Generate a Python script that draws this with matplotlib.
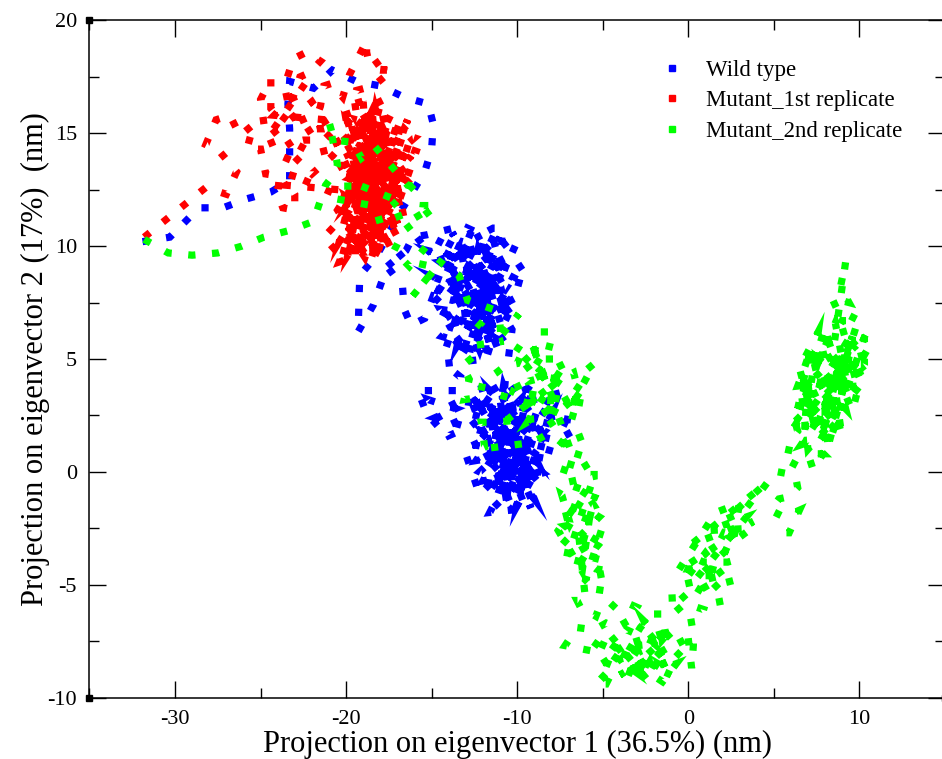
import numpy as np
import matplotlib.pyplot as plt
from matplotlib.lines import Line2D

plt.rcParams['font.family'] = ['Liberation Serif', 'DejaVu Serif']
plt.rcParams['axes.unicode_minus'] = False

# PC1 / PC2 trajectories (nm), frame order
wild_type = [
    (-31.9, 10.2), (-30.3, 10.4), (-28.6, 11.7), (-27.2, 11.7), (-25.8, 12.1),
    (-24.4, 12.4), (-23.3, 12.9), (-23.3, 14.1), (-23.3, 15.2), (-23.4, 16.3),
    (-23.3, 17.3), (-21.9, 17.0), (-20.8, 17.8), (-19.4, 17.3), (-18.0, 17.1),
    (-16.6, 16.6), (-15.2, 16.3), (-14.9, 15.4), (-15.0, 14.3), (-15.4, 13.3),
    (-16.2, 12.3), (-17.0, 11.3), (-17.6, 10.4), (-18.2, 9.6), (-19.2, 8.7),
    (-19.3, 6.2), (-18.4, 7.4), (-17.6, 9.1), (-16.5, 9.8), (-16.1, 10.4),
    (-15.3, 10.5), (-13.7, 10.8), (-12.4, 10.4), (-11.4, 10.8), (-10.9, 10.8),
    (-10.9, 9.9), (-12.8, 9.5), (-14.5, 9.3), (-13.2, 8.6), (-11.5, 9.4),
    (-10.4, 8.8), (-9.6, 9.2), (-10.0, 8.1), (-11.8, 8.0), (-13.8, 7.6),
    (-14.9, 7.8), (-15.4, 6.8), (-16.2, 6.5), (-16.6, 7.2), (-16.7, 8.2),
    (-17.6, 9.1), (-16.5, 9.8), (-15.3, 10.5), (-14.0, 10.0), (-12.0, 9.0),
    (-10.6, 7.5), (-10.2, 7.8), (-11.0, 6.6), (-12.6, 7.0), (-14.5, 7.2),
    (-13.9, 6.4), (-12.2, 6.0), (-11.6, 6.4), (-10.5, 7.0), (-11.4, 5.6),
    (-13.2, 5.4), (-13.7, 5.9), (-12.6, 8.4), (-11.2, 9.8), (-13.2, 10.2),
    (-14.2, 8.8), (-12.1, 7.2), (-10.6, 5.6), (-10.5, 5.1), (-10.3, 6.3),
    (-13.0, 9.8), (-11.2, 6.0), (-14.0, 8.2), (-10.4, 9.6), (-12.4, 5.8),
    (-13.6, 9.0), (-11.0, 8.4), (-14.6, 6.6), (-12.0, 10.2), (-10.8, 7.2),
    (-13.4, 7.0), (-11.6, 9.0), (-12.8, 5.2), (-10.2, 8.6), (-14.2, 10.2),
    (-11.9, 7.6), (-13.0, 6.2), (-11.0, 10.4), (-12.7, 8.0), (-14.8, 8.6),
    (-10.9, 6.4), (-12.3, 9.8), (-13.5, 5.6), (-11.3, 8.2), (-12.6, 6.6),
    (-10.6, 9.2), (-13.8, 8.4), (-12.2, 7.4), (-11.5, 5.4), (-13.1, 9.4),
    (-15.2, 9.8), (-10.2, 6.8), (-13.8, 10.6), (-11.0, 5.2), (-14.4, 6.0),
    (-10.0, 9.8), (-12.9, 10.8), (-15.0, 7.4), (-11.4, 10.2), (-13.4, 5.0),
    (-10.6, 8.2), (-14.7, 9.9), (-12.2, 5.4), (-11.2, 7.8), (-13.9, 9.6),
    (-10.4, 10.3), (-12.6, 9.0), (-14.2, 5.4), (-11.8, 6.8), (-13.0, 8.4),
    (-10.1, 7.2), (-12.4, 10.6), (-14.6, 8.0), (-11.6, 7.0), (-13.6, 6.6),
    (-10.8, 9.6), (-12.8, 7.6), (-14.0, 9.2), (-11.3, 5.8), (-12.0, 8.6),
    (-11.8, 5.0), (-14.3, 4.8), (-13.3, 4.2), (-13.4, 3.6), (-15.8, 3.6),
    (-15.3, 2.6), (-14.5, 1.9), (-13.3, 2.3), (-13.9, 3.2), (-12.0, 3.0),
    (-10.5, 2.5), (-9.0, 3.2), (-7.5, 3.5), (-8.8, 2.0), (-11.5, 1.5),
    (-12.4, 0.5), (-10.0, 0.8), (-8.5, -0.05), (-10.8, -0.6), (-11.6, -1.8),
    (-10.4, -1.7), (-9.8, -1.2), (-8.9, -0.9), (-9.5, 0.3), (-11.8, 1.0),
    (-12.2, 2.6), (-10.2, 3.5), (-8.4, 2.6), (-6.5, 1.9), (-7.7, 1.4),
    (-9.4, 1.7), (-11.0, 2.8), (-12.5, 3.6), (-11.2, 3.9), (-9.6, 3.8),
    (-8.0, 3.0), (-8.7, 0.8), (-10.5, -0.2), (-12.0, -0.4), (-11.2, 0.6),
    (-9.2, -0.4), (-10.0, -1.5), (-9.4, 1.0), (-10.8, 1.8), (-13.1, 1.0),
    (-12.2, -1.0), (-10.6, 0.2), (-9.0, 2.4), (-10.6, 4.0), (-12.4, 3.2),
    (-9.2, -1.6), (-11.0, 3.2), (-10.2, -1.0), (-9.0, 1.6), (-11.8, 0.2),
    (-9.6, 2.8), (-10.6, -1.4), (-11.4, 2.4), (-8.8, 0.4), (-10.4, 3.0),
    (-11.2, -0.8), (-9.4, 3.4), (-10.0, 0.0), (-12.0, 1.8), (-8.6, 1.2),
    (-11.0, -1.2), (-9.8, 2.0), (-10.8, 0.8), (-9.0, -0.4), (-11.6, 3.0),
    (-10.2, 1.4), (-12.2, 0.0), (-9.4, -1.0), (-10.6, 2.6), (-8.2, 2.0),
    (-11.0, 1.0), (-9.6, -0.6), (-10.4, 3.6), (-11.8, 2.2), (-9.2, 0.8),
    (-12.6, 1.2), (-8.4, 0.6), (-11.4, -1.6), (-9.0, 3.8), (-12.4, 2.8),
    (-8.6, -0.6), (-10.8, 3.8), (-11.8, -1.0), (-8.0, 2.6), (-10.2, -1.8),
    (-12.8, 3.4), (-9.8, 1.2), (-11.6, 0.0), (-8.8, 2.8), (-10.4, -0.8),
    (-12.0, 3.4), (-9.2, 0.0), (-11.2, 1.6), (-9.6, -1.4), (-10.8, 2.2),
    (-13.0, 2.6), (-9.0, -1.2), (-11.6, 3.6), (-10.0, 2.4), (-8.4, 1.8),
    (-11.0, -0.2), (-9.8, 3.2), (-12.2, 1.4), (-10.6, -1.0), (-9.4, 2.2),
    (-7.0, 2.6), (-7.4, 0.8),
    (-14.8, 2.4), (-13.6, 2.8), (-15.2, 3.2), (-14.0, 1.6), (-12.8, 2.0),
]

mutant_1st = [
    (-31.8, 10.4), (-28.2, 12.6), (-27.0, 12.3), (-26.4, 13.3), (-27.4, 14.2),
    (-28.2, 14.5), (-27.6, 15.6), (-26.8, 15.8), (-26.2, 14.9), (-25.4, 15.4),
    (-25.8, 14.3), (-25.0, 14.3), (-24.7, 13.2), (-23.9, 13.1), (-24.0, 12.3),
    (-23.7, 11.7), (-23.0, 11.6), (-23.0, 12.3), (-23.3, 12.7), (-22.9, 13.7),
    (-24.1, 14.1), (-24.8, 15.4), (-25.0, 16.5), (-24.4, 17.4), (-24.4, 16.1),
    (-23.8, 15.5), (-23.3, 16.0), (-23.6, 17.1), (-23.3, 17.8), (-23.1, 18.3),
    (-22.3, 18.6), (-21.5, 18.2), (-22.1, 17.7), (-22.7, 17.5), (-23.1, 16.6),
    (-22.3, 15.2), (-21.5, 15.2), (-21.7, 15.8), (-21.5, 16.2), (-21.3, 17.1),
    (-20.9, 17.2), (-20.2, 16.6), (-19.8, 17.6), (-18.8, 19.1), (-18.8, 18.6),
    (-18.6, 17.9), (-17.7, 18.4), (-17.8, 17.8), (-17.3, 17.8), (-18.4, 17.1),
    (-19.4, 16.9), (-19.6, 16.3), (-18.2, 16.6), (-17.8, 16.0), (-20.5, 15.3),
    (-21.3, 14.7), (-22.5, 14.7), (-23.1, 14.6), (-21.9, 14.1), (-20.3, 14.4),
    (-22.0, 16.4), (-24.6, 14.8), (-22.4, 17.2), (-24.2, 15.8), (-21.2, 15.6),
    (-23.6, 14.4), (-22.0, 13.2), (-20.8, 14.0),
    (-19.0, 15.5), (-18.0, 14.0), (-19.8, 13.0), (-17.5, 12.5), (-19.5, 11.5),
    (-18.0, 10.5), (-20.0, 10.0), (-18.5, 12.0), (-17.2, 13.5), (-19.2, 14.5),
    (-18.2, 15.8), (-17.6, 14.8), (-19.6, 12.2), (-18.8, 10.2), (-17.6, 11.3),
    (-19.3, 13.6), (-18.4, 13.0), (-20.2, 11.0), (-18.9, 9.5), (-17.8, 12.0),
    (-16.6, 13.9), (-16.2, 14.9), (-16.6, 15.2), (-17.5, 13.3), (-18.6, 14.4),
    (-19.5, 15.0), (-18.3, 12.6), (-19.7, 10.6), (-20.4, 9.3), (-19.6, 9.5),
    (-18.4, 11.0), (-17.0, 12.8), (-16.2, 13.0), (-16.6, 12.7), (-18.0, 13.6),
    (-19.0, 12.8), (-18.6, 11.6), (-20.0, 12.2), (-19.2, 10.8), (-17.4, 10.9),
    (-15.9, 14.2), (-17.0, 14.5), (-18.8, 15.2), (-19.4, 13.8), (-18.2, 11.4),
    (-19.0, 9.8), (-20.6, 9.8), (-21.3, 10.4), (-19.8, 11.6), (-18.6, 13.4),
    (-17.3, 14.2), (-18.0, 15.2), (-19.2, 16.0), (-18.5, 14.6), (-19.9, 14.0),
    (-18.9, 12.4), (-23.5, 12.7), (-22.7, 13.0), (-20.9, 12.4), (-19.4, 12.0),
    (-17.6, 15.4), (-19.8, 10.4), (-17.9, 9.6), (-18.6, 15.8), (-20.1, 13.4),
    (-17.1, 11.8), (-19.0, 16.4), (-18.4, 9.4), (-16.5, 14.4), (-20.0, 11.8),
    (-17.4, 15.8), (-19.2, 10.0), (-18.0, 13.0), (-20.3, 15.0), (-17.0, 10.4),
    (-18.7, 14.0), (-19.9, 9.6), (-16.8, 13.2), (-19.5, 16.4), (-18.3, 10.2),
    (-17.2, 15.0), (-20.2, 12.6), (-18.0, 11.8), (-16.4, 15.6), (-19.3, 11.2),
    (-18.5, 16.2), (-17.8, 9.9), (-19.7, 14.2), (-16.9, 12.2), (-18.9, 10.9),
    (-20.0, 15.6), (-17.4, 13.8), (-19.6, 10.2), (-18.2, 14.6), (-17.0, 11.0),
    (-19.1, 15.1), (-20.4, 11.4), (-16.3, 13.6), (-18.7, 9.7), (-17.7, 13.0),
    (-19.4, 12.6), (-16.0, 14.8), (-18.4, 15.4), (-20.1, 10.8), (-17.3, 12.3),
    (-19.0, 13.3), (-18.1, 9.8), (-16.7, 14.0), (-19.8, 15.3), (-18.6, 11.2),
    (-20.5, 13.8), (-16.8, 11.6), (-18.3, 16.1), (-19.9, 9.4), (-17.5, 14.4),
    (-20.3, 12.0), (-16.5, 12.4), (-19.1, 14.0), (-17.9, 10.2), (-20.6, 14.6),
    (-16.9, 15.4), (-18.8, 11.8), (-17.3, 9.8), (-19.6, 13.2), (-16.4, 14.2),
    (-18.2, 12.2), (-20.0, 16.0), (-17.8, 11.0), (-19.3, 9.9), (-16.7, 12.9),
    (-18.6, 15.6), (-20.4, 10.2), (-17.6, 13.6), (-18.9, 14.8), (-17.1, 10.6),
    (-19.7, 11.0), (-16.2, 14.0), (-18.4, 10.6), (-19.5, 14.6), (-17.0, 13.0),
    (-20.2, 9.6), (-18.0, 16.3), (-16.6, 11.2), (-19.2, 12.2), (-17.7, 15.0),
    (-20.5, 11.6), (-18.6, 9.3), (-17.2, 12.6), (-19.4, 15.6), (-16.3, 15.0),
]

mutant_2nd = [
    (-31.8, 10.3), (-30.4, 9.7), (-29.0, 9.6), (-27.5, 9.7), (-26.1, 10.0),
    (-24.8, 10.4), (-23.3, 10.7), (-21.9, 11.1), (-21.6, 11.8), (-21.2, 12.7),
    (-20.7, 13.2), (-20.5, 13.6), (-20.7, 14.4), (-21.0, 15.5), (-20.7, 14.7),
    (-19.6, 14.6), (-19.1, 13.9), (-18.3, 14.4), (-17.3, 13.5), (-16.4, 12.7),
    (-15.9, 12.6), (-15.8, 12.9), (-17.3, 11.8), (-16.9, 12.0), (-19.9, 12.9),
    (-19.9, 12.5), (-20.6, 12.1), (-18.5, 11.8), (-18.2, 11.5), (-18.0, 11.0),
    (-16.0, 11.6), (-15.6, 11.1), (-15.5, 11.8), (-14.7, 11.8), (-16.6, 10.7),
    (-17.2, 9.8), (-16.3, 9.1), (-15.3, 10.0), (-15.6, 8.9), (-14.9, 8.9),
    (-16.1, 7.8), (-14.5, 9.3), (-13.4, 8.7), (-12.9, 7.6), (-11.4, 7.2),
    (-12.2, 6.5), (-11.9, 6.3), (-10.5, 6.4), (-9.9, 7.0), (-11.3, 5.7),
    (-10.8, 5.8), (-12.5, 5.6), (-12.4, 5.2), (-13.2, 4.7), (-12.8, 4.1),
    (-13.1, 3.2), (-12.2, 3.3), (-12.0, 4.0), (-11.2, 4.4), (-10.7, 4.7),
    (-10.0, 4.8), (-9.7, 5.3), (-9.0, 5.3), (-8.7, 6.2), (-7.9, 6.2),
    (-8.2, 5.3), (-7.7, 5.0), (-8.5, 5.0), (-9.1, 4.8), (-9.8, 4.4),
    (-9.4, 4.0), (-8.4, 4.2), (-7.5, 4.1), (-6.7, 4.4), (-6.6, 4.1),
    (-5.5, 4.8), (-6.7, 3.1), (-8.9, 3.2), (-9.6, 2.9), (-10.6, 2.3),
    (-8.0, 3.8), (-10.2, 5.6), (-6.2, 3.6), (-9.4, 2.2), (-7.2, 4.8),
    (-11.0, 3.4), (-6.4, 2.4), (-8.8, 4.6), (-5.8, 3.0), (-10.4, 3.6),
    (-7.6, 2.6), (-9.2, 5.8), (-6.8, 0.8), (-8.2, 2.4),
    (-11.3, 2.2), (-12.1, 2.2), (-11.9, 1.1), (-12.2, 1.0), (-9.1, 1.3),
    (-8.4, 1.6), (-7.9, 1.6), (-7.1, 1.1), (-6.8, 1.4), (-6.1, 1.6),
    (-6.5, 0.6), (-6.3, 0.2), (-7.2, 0.4), (-7.7, 0.2), (-6.7, -0.05),
    (-5.5, 0.5), (-5.5, -0.2), (-7.3, -0.5), (-6.1, -0.8), (-5.5, -1.5),
    (-6.3, -1.7), (-7.3, -1.4), (-7.1, -2.0), (-6.6, -1.9), (-6.9, -2.3),
    (-7.4, -1.0), (-5.2, -2.0), (-6.8, -3.2), (-5.6, -0.4), (-7.6, -2.6),
    (-6.2, -4.4), (-5.8, -2.2),
    (-7.2, -2.4), (-6.7, -2.7), (-7.1, -3.0), (-7.7, -3.5), (-7.0, -3.6),
    (-6.7, -3.7), (-6.0, -3.6), (-6.3, -3.2), (-5.7, -3.1), (-5.2, -3.3),
    (-4.9, -3.5), (-5.1, -3.9), (-5.6, -3.8), (-5.9, -4.0), (-5.4, -4.3),
    (-4.5, -4.4), (-4.8, -4.5), (-5.5, -4.6), (-5.1, -4.9), (-5.2, -5.4),
    (-6.0, -4.8), (-5.0, -2.4), (-6.6, -4.4), (-5.4, -1.0), (-6.4, -2.8),
    (-6.0, -5.7), (-6.5, -5.7), (-6.3, -6.0), (-5.4, -6.4), (-5.2, -6.0),
    (-4.6, -6.1), (-4.1, -5.7), (-3.6, -5.8), (-3.0, -6.0), (-3.5, -6.6),
    (-4.2, -6.9), (-4.8, -6.7), (-5.5, -7.0), (-6.5, -6.9), (-7.2, -7.7),
    (-5.2, -8.0), (-4.7, -8.6), (-4.4, -8.8), (-4.8, -9.4), (-5.4, -9.4),
    (-4.0, -8.3), (-3.4, -8.2), (-2.9, -8.0), (-3.2, -7.4), (-2.8, -6.9),
    (-2.1, -6.3), (-1.5, -6.3), (-1.3, -7.3), (-1.6, -7.0), (-2.4, -7.5),
    (-2.2, -7.7), (-1.8, -8.0), (-1.4, -8.3), (-1.05, -8.6), (-0.7, -8.5),
    (-1.5, -9.3), (-2.3, -8.9), (-3.0, -8.6), (-3.6, -8.8), (-2.0, -8.4),
    (-3.8, -7.6), (-1.2, -8.9), (-2.6, -6.6), (-0.4, -8.2), (-3.3, -9.0),
    (-1.7, -7.6), (-4.3, -7.8), (-0.8, -7.0), (-2.7, -8.3), (-1.0, -9.0),
    (-5.8, -7.4), (-3.2, -8.8), (-4.6, -7.2), (-2.4, -9.2), (-5.0, -8.4),
    (-3.6, -7.0), (-1.2, -7.8), (-4.0, -9.0),
    (-0.1, -7.4), (0.3, -7.3), (0.3, -7.7), (0.2, -8.7), (-0.1, -6.7),
    (0.7, -6.6), (0.9, -6.1), (0.5, -6.0), (-0.3, -5.9), (-0.6, -6.1),
    (-0.9, -6.3), (-0.96, -5.2), (-0.7, -5.2), (-0.1, -5.7), (0.1, -5.4),
    (0.5, -5.4), (0.9, -4.9), (1.3, -4.8), (1.8, -5.2), (2.2, -5.7),
    (1.5, -5.8), (0.6, -4.6), (2.0, -4.6), (-0.4, -5.0), (1.0, -3.6),
    (2.5, -5.1), (2.3, -4.5), (1.3, -4.3), (0.0, -4.3), (0.3, -3.8),
    (0.9, -4.0), (1.7, -4.0), (2.3, -4.0), (2.8, -3.9), (2.5, -3.6),
    (1.6, -3.3), (1.9, -3.0), (2.1, -2.7), (3.0, -2.9), (3.7, -2.5),
    (1.2, -2.6), (3.4, -2.0), (0.4, -4.8), (2.6, -3.2), (3.0, -1.4),
    (1.6, -1.8), (-0.6, -4.4), (3.8, -2.2), (0.2, -3.2), (4.4, -0.6),
    (2.2, -2.1), (2.8, -1.9), (3.2, -1.8), (3.7, -1.3), (4.0, -1.1),
    (4.8, -0.3), (5.4, -0.2), (5.5, 0.2), (5.8, 0.7), (6.0, 1.4),
    (6.4, 1.8), (6.1, 2.6), (6.5, 2.3), (7.1, 2.0), (7.8, 2.3),
    (8.3, 2.1), (9.2, 2.2), (9.1, 2.6), (8.3, 2.6), (7.3, 2.7),
    (6.7, 2.9), (6.9, 3.5), (7.5, 3.3), (7.7, 3.9), (8.7, 3.6),
    (9.9, 3.6), (9.7, 3.0), (9.6, 4.1), (9.1, 4.2), (8.3, 4.7),
    (8.0, 5.1), (7.1, 5.3), (6.7, 4.4), (6.4, 3.8), (7.7, 3.9),
    (9.1, 5.4), (9.5, 5.8), (10.1, 5.3), (10.8, 5.0), (10.3, 4.7),
    (10.3, 5.9), (9.5, 6.3), (8.6, 6.1), (9.0, 6.7), (10.0, 6.7),
    (8.7, 7.2), (8.4, 7.7), (9.4, 7.5), (8.9, 8.2), (9.2, 9.3),
    (8.5, 5.5), (9.0, 4.5), (8.0, 3.0),
    (8.0, 4.2), (9.8, 5.6), (7.4, 3.0), (9.4, 3.2), (8.2, 5.8),
    (10.4, 5.2), (7.2, 4.6), (8.8, 2.4), (9.6, 6.0), (7.6, 2.2),
    (9.0, 5.0), (8.4, 3.4), (10.0, 4.4), (7.0, 3.8), (8.6, 6.6),
    (9.3, 3.8), (7.8, 5.6), (8.9, 1.8),
    (6.6, 1.2), (9.8, 4.8), (7.0, 2.4), (10.2, 3.4), (7.6, 5.0),
    (9.0, 1.6), (6.8, 3.2), (9.6, 5.2), (8.2, 1.2), (10.4, 6.2),
    (7.4, 4.2), (9.2, 2.8), (8.0, 6.4), (6.2, 2.0), (9.8, 6.4),
    (7.8, 1.6), (8.6, 4.0), (10.6, 4.6), (7.2, 3.4), (9.4, 4.6),
    (8.4, 2.2), (7.0, 1.0),
    (6.6, 3.6), (7.2, 5.6), (6.4, 2.8), (7.0, 4.2), (6.8, 1.8),
    (7.6, 6.2), (6.5, 4.6), (7.4, 2.0),
    (8.8, 2.9), (7.5, 1.1),
    (7.9, 0.8), (7.0, 0.8), (7.3, 0.1), (7.8, 0.7), (8.4, 1.5),
    (6.9, 1.4), (6.0, 0.1), (6.3, -0.3), (6.4, -0.7), (5.9, -1.1),
    (5.3, -1.2), (4.8, -1.7), (5.6, -2.0), (6.5, -1.7), (5.9, -2.7),
    (5.2, -2.7),
]

labels = ['Wild type', 'Mutant_1st replicate', 'Mutant_2nd replicate']
colors = ['#0000ff', '#ff0000', '#00ff00']

fig = plt.figure(figsize=(9.42, 7.59), dpi=100)
ax = fig.add_axes([0.095, 0.081, 0.908, 0.892])

# thick dashed trajectory lines, each dash looks like a small square
for traj, c in zip([wild_type, mutant_1st, mutant_2nd], colors):
    xy = np.array(traj)
    ax.plot(xy[:, 0], xy[:, 1], color=c, lw=5.2, linestyle=(0, (1, 2.3)),
            dash_capstyle='butt', dash_joinstyle='miter')

ax.set_xlim(-35, 15)
ax.set_ylim(-10, 20)
ax.set_xticks([-30, -20, -10, 0, 10])
ax.set_xticks(np.arange(-35, 16, 5), minor=True)
ax.set_yticks(np.arange(-10, 21, 5))
ax.set_yticks(np.arange(-10, 21, 2.5), minor=True)
ax.tick_params(which='both', direction='in', top=True, right=True, width=1.0,
               labelsize=16, colors='black')
ax.tick_params(which='major', length=12, pad=9)
ax.tick_params(which='minor', length=7)
for s in ax.spines.values():
    s.set_linewidth(1.1)

ax.set_xlabel('Projection on eigenvector 1 (36.5%) (nm)', fontsize=22, labelpad=1)
ax.set_ylabel('Projection on eigenvector 2 (17%)  (nm)', fontsize=22, labelpad=-2)

# small black squares at the axis corners
ax.plot([0, 0, 1], [1, 0, 0], 's', color='black', ms=5, transform=ax.transAxes,
        clip_on=False)

handles = [Line2D([], [], marker='s', ls='none', color=c, ms=4.5) for c in colors]
ax.legend(handles, labels, loc='upper left', bbox_to_anchor=(0.654, 0.959),
          frameon=False, fontsize=16.5, handlelength=1.0, handletextpad=1.0,
          labelspacing=0.42, borderpad=0)

fig.savefig('out.png', dpi=100)
